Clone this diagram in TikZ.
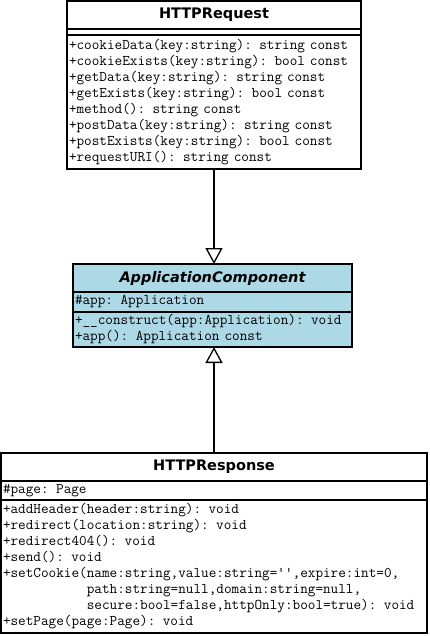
\documentclass[tikz,border=0pt]{standalone}
\usepackage{fontspec}
\setsansfont{DejaVu Sans}
\usetikzlibrary{arrows.meta}

\begin{document}
\begin{tikzpicture}[x=1pt,y=-1pt]
    % Colors
    \definecolor{abstract color}{RGB}{173,216,230}

    % Styles
    \tikzstyle{compartment} = [draw, line width=1.8pt, outer sep=0pt, inner sep=0pt, anchor=north west]
    \tikzstyle{class name} = [compartment, font=\sffamily\bfseries\fontsize{14.5}{17}\selectfont]
    \tikzstyle{members} = [compartment, font=\ttfamily\fontsize{14.8}{16}\selectfont, align=left, inner xsep=2pt]
    \tikzstyle{inherits} = [line width=1.8pt, -{Triangle[open,length=16pt,width=17pt,line width=1.3pt,fill=white]}]

    \useasboundingbox (0,0) rectangle (429,636);

    %%% HTTPRequest
    \node[class name, minimum width=294, minimum height=28] (req title) at (67,1) {HTTPRequest};
    \node[compartment, minimum width=294, minimum height=6] (req attrs) at (req title.south west) {};
    \node[members, text width=290, minimum height=134] (req ops) at (req attrs.south west)
        {+cookieData(key:string): string const\\
         +cookieExists(key:string): bool const\\
         +getData(key:string): string const\\
         +getExists(key:string): bool const\\
         +method(): string const\\
         +postData(key:string): string const\\
         +postExists(key:string): bool const\\
         +requestURI(): string const};
    %%%

    %%% ApplicationComponent
    \node[class name, fill=abstract color, minimum width=279, minimum height=28] (app title) at (73,264)
        {\itshape ApplicationComponent};
    \node[members, fill=abstract color, text width=275, minimum height=20] (app attrs) at (app title.south west)
        {\#app: Application};
    \node[members, fill=abstract color, text width=275, minimum height=35] (app ops) at (app attrs.south west)
        {+\_\_construct(app:Application): void\\
         +app(): Application const};
    %%%

    %%% HTTPResponse
    \node[class name, minimum width=426, minimum height=28] (resp title) at (1,453) {HTTPResponse};
    \node[members, text width=422, minimum height=19] (resp attrs) at (resp title.south west)
        {\#page: Page};
    \node[members, text width=422, minimum height=133] (resp ops) at (resp attrs.south west)
        {+addHeader(header:string): void\\
         +redirect(location:string): void\\
         +redirect404(): void\\
         +send(): void\\
         +setCookie(name:string,value:string=\textquotesingle\textquotesingle,expire:int=0,\\
         \phantom{+setCookie(}path:string=null,domain:string=null,\\
         \phantom{+setCookie(}secure:bool=false,httpOnly:bool=true): void\\
         +setPage(page:Page): void};
    %%%

    % Generalisation
    \draw[inherits] (req ops.south) -- (req ops.south |- app title.north);
    \draw[inherits] (resp title.north) -- (resp title.north |- app ops.south);
\end{tikzpicture}
\end{document}
